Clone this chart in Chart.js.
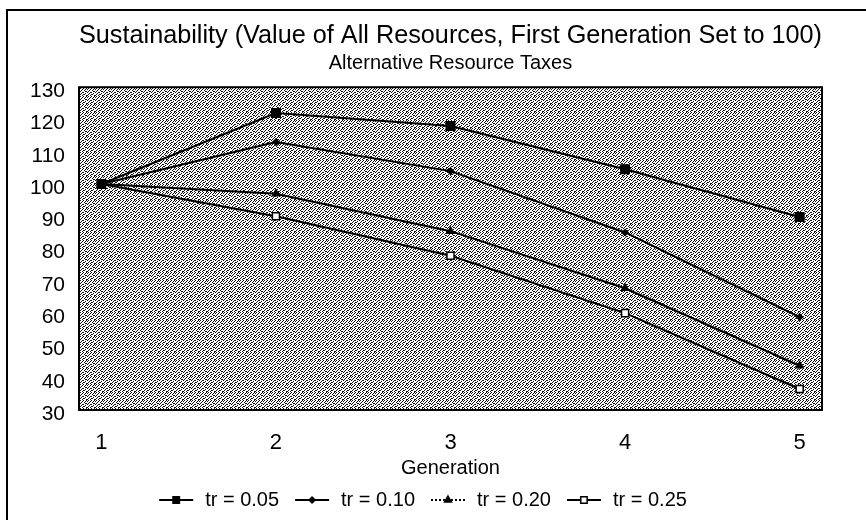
<!DOCTYPE html>
<html>
<head>
<meta charset="utf-8">
<script src="https://cdn.jsdelivr.net/npm/chart.js@4/dist/chart.umd.min.js"></script>
<style>
html,body{margin:0;padding:0;background:#fff;}
#wrap{width:866px;height:520px;position:relative;}
</style>
</head>
<body>
<div id="wrap"><canvas id="c" width="866" height="520"></canvas></div>
<script>
// ---- data ----
const generations = [1, 2, 3, 4, 5];
const seriesNames = ['tr = 0.05', 'tr = 0.10', 'tr = 0.20', 'tr = 0.25'];
const tr005 = [100, 122, 118, 104.6, 89.8];
const tr010 = [100, 113, 104, 85, 58.8];
const tr020 = [100, 97, 85.4, 67.7, 43.7];
const tr025 = [100, 90, 77.8, 60, 36.5];
const yTicks = [30, 40, 50, 60, 70, 80, 90, 100, 110, 120, 130];
const titleText = 'Sustainability (Value of All Resources, First Generation Set to 100)';
const subtitleText = 'Alternative Resource Taxes';
const xTitle = 'Generation';

const FONT = '"Liberation Sans Narrow", "Liberation Sans", Arial, sans-serif';

// dithered plot background tile (1 = dark pixel)
const DITHER = [
  '10010010',
  '00100101',
  '01001000',
  '10000110',
  '00110001',
  '01000100',
  '10011000',
  '00100011'
];
function makePattern(ctx) {
  const t = document.createElement('canvas');
  t.width = 8; t.height = 8;
  const g = t.getContext('2d');
  g.fillStyle = '#fff'; g.fillRect(0, 0, 8, 8);
  g.fillStyle = '#111';
  DITHER.forEach((row, y) => {
    for (let x = 0; x < 8; x++) if (row[x] === '1') g.fillRect(x, y, 1, 1);
  });
  return ctx.createPattern(t, 'repeat');
}

const styles = [
  {pointStyle: 'rect', radius: 6, bg: '#000', dash: []},
  {pointStyle: 'rectRot', radius: 3, bg: '#000', dash: []},
  {pointStyle: 'triangle', radius: 4, bg: '#000', dash: [2, 2]},
  {pointStyle: 'rect', radius: 5, bg: '#fff', dash: []}
];
const seriesValues = [tr005, tr010, tr020, tr025];

function legendIcon(st) {
  const c = document.createElement('canvas');
  c.width = 42; c.height = 14;
  const g = c.getContext('2d');
  g.strokeStyle = '#000'; g.lineWidth = 2;
  g.setLineDash(st.dash);
  g.beginPath(); g.moveTo(6, 7); g.lineTo(40, 7); g.stroke();
  g.setLineDash([]);
  g.fillStyle = st.bg;
  g.lineWidth = 1.5;
  Chart.helpers.drawPoint(g, {pointStyle: st.pointStyle, radius: Math.min(st.radius, 4.5), rotation: 0, borderWidth: 1.5}, 23, 7);
  return c;
}

const bgPlugin = {
  id: 'bgPlugin',
  beforeDraw(chart) {
    const {ctx, chartArea: a} = chart;
    ctx.save();
    ctx.fillStyle = '#fff';
    ctx.fillRect(0, 0, chart.width, chart.height);
    // outer frame (left and top)
    ctx.strokeStyle = '#000';
    ctx.lineWidth = 2;
    ctx.beginPath();
    ctx.moveTo(7, 530); ctx.lineTo(7, 10); ctx.lineTo(870, 10);
    ctx.stroke();
    ctx.fillStyle = makePattern(ctx);
    ctx.fillRect(a.left, a.top, a.right - a.left, a.bottom - a.top);
    ctx.restore();
  },
  afterDraw(chart) {
    const {ctx, chartArea: a} = chart;
    ctx.save();
    ctx.strokeStyle = '#000';
    ctx.lineWidth = 2;
    ctx.strokeRect(a.left, a.top, a.right - a.left, a.bottom - a.top);
    ctx.restore();
  }
};

const datasets = seriesNames.map((name, i) => ({
  label: name,
  data: generations.map((g, j) => ({x: g, y: seriesValues[i][j]})),
  borderColor: '#000',
  borderWidth: 2,
  pointStyle: styles[i].pointStyle,
  pointRadius: styles[i].radius,
  pointBackgroundColor: styles[i].bg,
  pointBorderColor: '#000',
  pointBorderWidth: 1.5,
  tension: 0,
  fill: false
}));

new Chart(document.getElementById('c'), {
  type: 'line',
  data: {datasets},
  plugins: [bgPlugin],
  options: {
    responsive: false,
    animation: false,
    layout: {padding: {left: 0, right: 26, top: 0, bottom: 0}},
    plugins: {
      title: {
        display: true, text: titleText, color: '#000', fullSize: false,
        font: {family: FONT, size: 26, weight: 'normal'},
        padding: {top: 20, bottom: 0}
      },
      subtitle: {
        display: true, text: subtitleText, color: '#000', fullSize: false,
        font: {family: FONT, size: 20, weight: 'normal'},
        padding: {top: 0, bottom: 12}
      },
      legend: {
        position: 'bottom',
        labels: {
          color: '#000',
          font: {family: FONT, size: 20},
          usePointStyle: true,
          pointStyleWidth: 42,
          padding: 10,
          generateLabels(chart) {
            return chart.data.datasets.map((ds, i) => ({
              text: ds.label,
              pointStyle: legendIcon(styles[i]),
              fillStyle: '#000', strokeStyle: '#000', lineWidth: 0,
              hidden: false, datasetIndex: i, fontColor: '#000'
            }));
          }
        }
      },
      tooltip: {enabled: false}
    },
    scales: {
      x: {
        type: 'linear',
        min: 0.872, max: 5.128,
        afterBuildTicks(scale) { scale.ticks = generations.map(v => ({value: v})); },
        afterFit(scale) { scale.height = 70; },
        grid: {display: false},
        border: {display: false},
        ticks: {color: '#000', font: {family: FONT, size: 22}, padding: 12, maxRotation: 0, autoSkip: false,
                callback: v => String(v)},
        title: {display: true, text: xTitle, color: '#000', font: {family: FONT, size: 20}, padding: {top: 0, bottom: 0}}
      },
      y: {
        type: 'linear',
        min: 30, max: 130,
        afterBuildTicks(scale) { scale.ticks = yTicks.map(v => ({value: v})); },
        afterFit(scale) { scale.width = 79; },
        grid: {display: false},
        border: {display: false},
        ticks: {color: '#000', font: {family: FONT, size: 21}, padding: 6, labelOffset: 4}
      },
      y2: {
        position: 'right',
        display: true,
        afterFit(scale) { scale.width = 18; },
        grid: {display: false},
        border: {display: false},
        ticks: {display: false}
      }
    }
  }
});
</script>
</body>
</html>
